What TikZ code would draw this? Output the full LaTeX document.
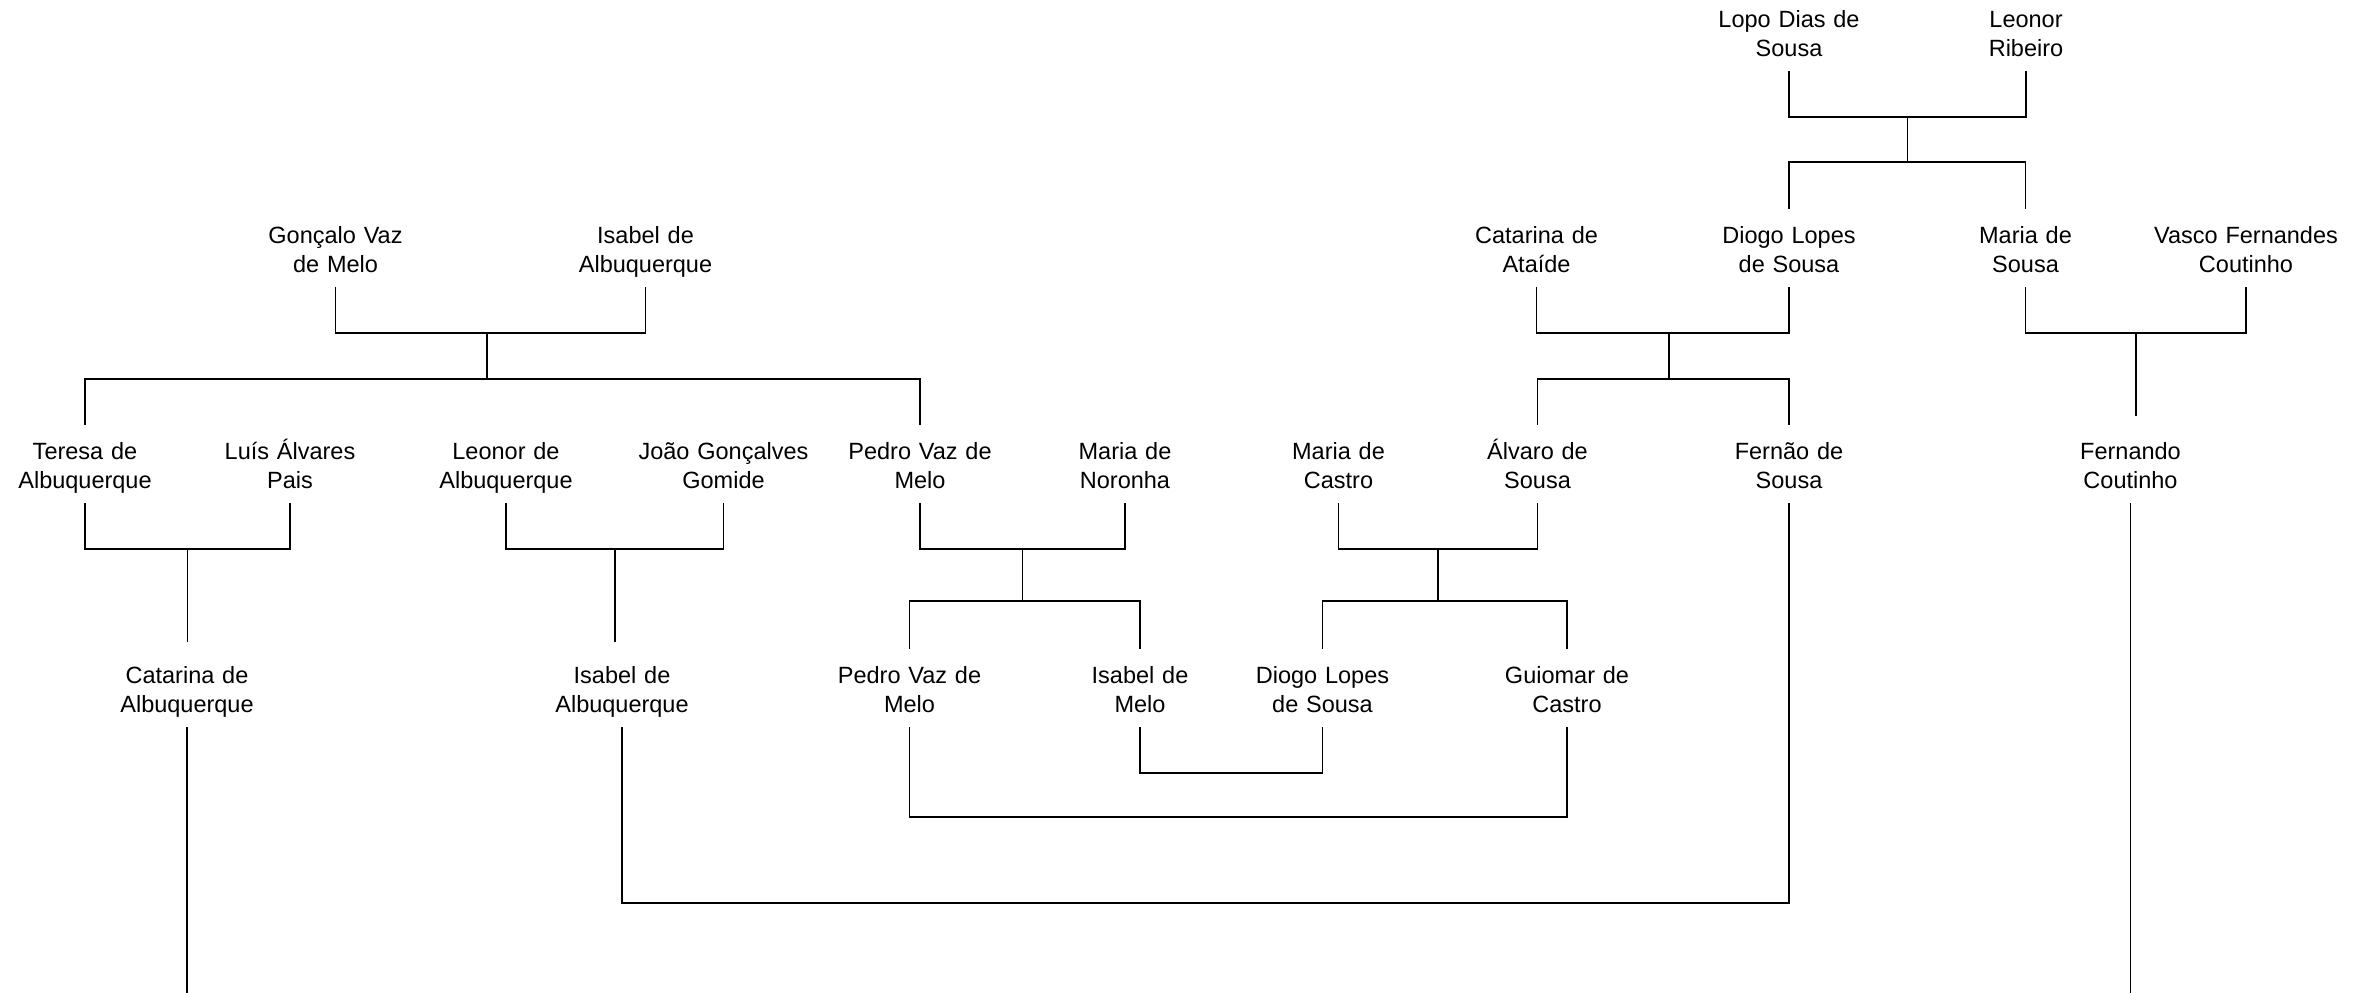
\documentclass[tikz,border=0pt]{standalone}
\usepackage{fontspec}
\setmainfont{Liberation Sans}
\usetikzlibrary{calc,positioning}

\begin{document}
\begin{tikzpicture}[
  x=0.4pt, y=-0.4pt,
  line/.style={line width=0.65pt},
  person/.style={align=center, text width=90pt, inner xsep=0pt, inner ysep=4pt,
    outer sep=0pt, text height=9.6pt, text depth=13.6pt, anchor=base,
    font=\fontsize{9.4}{11.6}\selectfont}
]
  \useasboundingbox (0,0) rectangle (2371,993);

  % first generation
  \node[person] (lopo)    at (1789,27) {Lopo Dias de\\Sousa};
  \node[person] (leonorR) at (2026,27) {Leonor\\Ribeiro};

  % second generation
  \node[person] (goncalo)   at (335.5,243) {Gonçalo Vaz\\de Melo};
  \node[person] (isabelA)   at (645.5,243) {Isabel de\\Albuquerque};
  \node[person] (catarinaA) at (1536.5,243) {Catarina de\\Ataíde};
  \node[person] (diogo)     at (1789,243) {Diogo Lopes\\de Sousa};
  \node[person] (mariaS)    at (2025.5,243) {Maria de\\Sousa};
  \node[person] (vasco)     at (2246,243) {Vasco Fernandes\\Coutinho};

  % third generation
  \node[person] (teresa)   at (85,459) {Teresa de\\Albuquerque};
  \node[person] (luis)     at (290,459) {Luís Álvares\\Pais};
  \node[person] (leonorA)  at (506,459) {Leonor de\\Albuquerque};
  \node[person] (joao)     at (723.5,459) {João Gonçalves\\Gomide};
  \node[person] (pedro)    at (920,459) {Pedro Vaz de\\Melo};
  \node[person] (mariaN)   at (1125,459) {Maria de\\Noronha};
  \node[person] (mariaC)   at (1338.5,459) {Maria de\\Castro};
  \node[person] (alvaro)   at (1537.5,459) {Álvaro de\\Sousa};
  \node[person] (fernao)   at (1789,459) {Fernão de\\Sousa};
  \node[person] (fernando) at (2130.5,459) {Fernando\\Coutinho};

  % fourth generation
  \node[person] (catarinaB) at (187,683) {Catarina de\\Albuquerque};
  \node[person] (isabelB)   at (622,683) {Isabel de\\Albuquerque};
  \node[person] (pedroB)    at (909.5,683) {Pedro Vaz de\\Melo};
  \node[person] (isabelM)   at (1140,683) {Isabel de\\Melo};
  \node[person] (diogoB)    at (1322.5,683) {Diogo Lopes\\de Sousa};
  \node[person] (guiomar)   at (1567,683) {Guiomar de\\Castro};

  % couples and their children
  \coordinate (u1) at ($(lopo.south)!0.5!(leonorR.south)+(0,46)$);
  \draw[line] (lopo.south) |- (u1) -| (leonorR.south);
  \draw[line] (u1) -- ++(0,45) coordinate (k1);
  \draw[line] (diogo.north) |- (k1) -| (mariaS.north);

  \coordinate (u2) at ($(goncalo.south)!0.488!(isabelA.south)+(0,46)$);
  \draw[line] (goncalo.south) |- (u2) -| (isabelA.south);
  \draw[line] (u2) -- ++(0,46) coordinate (k2);
  \draw[line] (teresa.north) |- (k2) -| (pedro.north);

  \coordinate (u3) at ($(catarinaA.south)!0.525!(diogo.south)+(0,46)$);
  \draw[line] (catarinaA.south) |- (u3) -| (diogo.south);
  \draw[line] (u3) -- ++(0,46) coordinate (k3);
  \draw[line] (alvaro.north) |- (k3) -| (fernao.north);

  \coordinate (u4) at ($(mariaS.south)!0.5!(vasco.south)+(0,46)$);
  \draw[line] (mariaS.south) |- (u4) -| (vasco.south);
  \coordinate (k4) at ($(u4 |- fernando.north)+(0,-9)$);
  \draw[line] (u4) -- (k4);

  \coordinate (u5) at ($(teresa.south)!0.5!(luis.south)+(0,46)$);
  \draw[line] (teresa.south) |- (u5) -| (luis.south);
  \coordinate (k5) at ($(u5 |- catarinaB.north)+(0,-7)$);
  \draw[line] (u5) -- (k5);

  \coordinate (u6) at ($(leonorA.south)!0.5!(joao.south)+(0,46)$);
  \draw[line] (leonorA.south) |- (u6) -| (joao.south);
  \coordinate (k6) at ($(u6 |- isabelB.north)+(0,-7)$);
  \draw[line] (u6) -- (k6);

  \coordinate (u7) at ($(pedro.south)!0.5!(mariaN.south)+(0,46)$);
  \draw[line] (pedro.south) |- (u7) -| (mariaN.south);
  \draw[line] (u7) -- ++(0,52) coordinate (k7);
  \draw[line] (pedroB.north) |- (k7) -| (isabelM.north);

  \coordinate (u8) at ($(mariaC.south)!0.5!(alvaro.south)+(0,46)$);
  \draw[line] (mariaC.south) |- (u8) -| (alvaro.south);
  \draw[line] (u8) -- ++(0,52) coordinate (k8);
  \draw[line] (diogoB.north) |- (k8) -| (guiomar.north);

  % later marriages
  \draw[line] (isabelM.south) -- ++(0,46) -| (diogoB.south);
  \draw[line] (pedroB.south) -- ++(0,90) -| (guiomar.south);
  \draw[line] (isabelB.south) -- ++(0,176) -| (fernao.south);

  % lines running off the page
  \coordinate (e1) at (catarinaB.south |- 0,993);
  \coordinate (e2) at (fernando.south |- 0,993);
  \draw[line] (catarinaB.south) -- (e1);
  \draw[line] (fernando.south) -- (e2);
\end{tikzpicture}
\end{document}
